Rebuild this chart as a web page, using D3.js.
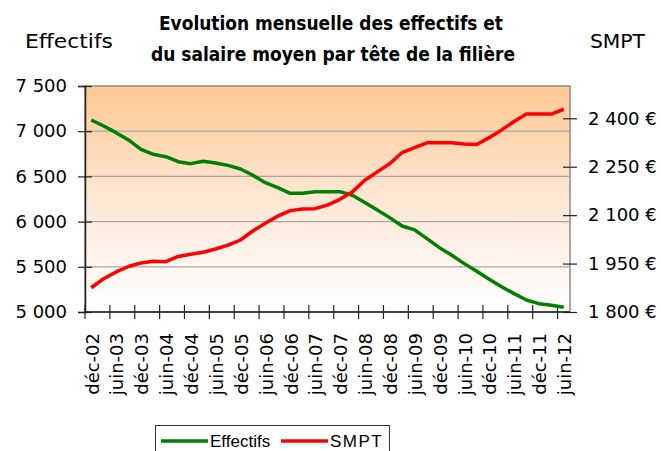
<!DOCTYPE html>
<html>
<head>
<meta charset="utf-8">
<script src="https://cdn.jsdelivr.net/npm/d3@7"></script>
<style>
  body { margin: 0; background: #fff; }
  svg { display: block; }
</style>
</head>
<body>
<svg id="chart"></svg>
<script>
// quarterly categories, déc-02 .. juin-12
const periods = [
  "déc-02", "mars-03", "juin-03", "sept-03", "déc-03", "mars-04", "juin-04", "sept-04",
  "déc-04", "mars-05", "juin-05", "sept-05", "déc-05", "mars-06", "juin-06", "sept-06",
  "déc-06", "mars-07", "juin-07", "sept-07", "déc-07", "mars-08", "juin-08", "sept-08",
  "déc-08", "mars-09", "juin-09", "sept-09", "déc-09", "mars-10", "juin-10", "sept-10",
  "déc-10", "mars-11", "juin-11", "sept-11", "déc-11", "mars-12", "juin-12"
];

// Effectifs (left axis)
const effectifs = [
  7124, 7058, 6984, 6903, 6800, 6744, 6718, 6663, 6641, 6667,
  6648, 6622, 6582, 6512, 6431, 6375, 6313, 6313, 6331, 6331,
  6331, 6291, 6210, 6128, 6044, 5951, 5908, 5811, 5712, 5627,
  5535, 5450, 5362, 5280, 5203, 5133, 5092, 5074, 5052
];

// SMPT, salaire moyen par tête en euros (right axis)
const smpt = [
  1875, 1903, 1924, 1941, 1952, 1957, 1956, 1972, 1979, 1985,
  1995, 2007, 2023, 2051, 2075, 2097, 2114, 2119, 2120, 2131,
  2149, 2172, 2208, 2234, 2259, 2294, 2309, 2324, 2324, 2324,
  2320, 2319, 2340, 2364, 2390, 2413, 2413, 2413, 2428
];

const leftTicks = [5000, 5500, 6000, 6500, 7000, 7500];
const rightTicks = [1800, 1950, 2100, 2250, 2400];
const titleLines = ["Evolution mensuelle des effectifs et", "du salaire moyen par tête de la filière"];

const width = 661, height = 451;
const plot = { left: 85, right: 570, top: 86, bottom: 312 };

const svg = d3.select("#chart").attr("width", width).attr("height", height);

svg.append("rect").attr("width", width).attr("height", height).attr("fill", "#fff");

const x = d3.scaleBand().domain(periods).range([plot.left, plot.right]);
const bw = x.bandwidth();
const yL = d3.scaleLinear().domain([5000, 7500]).range([plot.bottom, plot.top]);
const yR = d3.scaleLinear().domain([1800, 2500]).range([plot.bottom, plot.top]);

const fmt = v => d3.format(",")(v).replace(/,/g, " ");

// plot area gradient
const grad = svg.append("defs").append("linearGradient")
  .attr("id", "bg").attr("x1", 0).attr("y1", 0).attr("x2", 0).attr("y2", 1);
grad.append("stop").attr("offset", "0%").attr("stop-color", "#fdc993");
grad.append("stop").attr("offset", "55%").attr("stop-color", "#feeadb");
grad.append("stop").attr("offset", "100%").attr("stop-color", "#ffffff");

svg.append("rect")
  .attr("x", plot.left).attr("y", plot.top)
  .attr("width", plot.right - plot.left).attr("height", plot.bottom - plot.top)
  .attr("fill", "url(#bg)")
  .attr("stroke", "#8a8a8a").attr("stroke-width", 1.5);

// gridlines
svg.append("g").selectAll("line")
  .data(leftTicks.slice(1, -1))
  .join("line")
  .attr("x1", plot.left).attr("x2", plot.right)
  .attr("y1", d => yL(d)).attr("y2", d => yL(d))
  .attr("stroke", "#a6a6a6").attr("stroke-width", 1.2);

// left axis
const gL = svg.append("g").attr("transform", `translate(${plot.left},0)`)
  .call(d3.axisLeft(yL).tickValues(leftTicks).tickFormat(fmt).tickSize(7));
gL.select(".domain").attr("stroke", "#222").attr("stroke-width", 1.5);
gL.selectAll(".tick line").attr("x1", 7).attr("x2", -7).attr("stroke", "#222").attr("stroke-width", 1.2);
gL.selectAll(".tick text").attr("x", -18)
  .attr("font-family", "DejaVu Sans").attr("font-size", 18).attr("fill", "#000");

// right axis
const gR = svg.append("g").attr("transform", `translate(${plot.right},0)`)
  .call(d3.axisRight(yR).tickValues(rightTicks).tickFormat(d => fmt(d) + " €").tickSize(7));
gR.select(".domain").remove();
gR.selectAll(".tick line").attr("x1", -7).attr("x2", 7).attr("stroke", "#222").attr("stroke-width", 1.2);
gR.selectAll(".tick text").attr("x", 18)
  .attr("font-family", "DejaVu Sans").attr("font-size", 18).attr("fill", "#000");

// bottom axis (category axis, tick every 2 quarters)
const shown = periods.filter((d, i) => i % 2 === 0);
const gB = svg.append("g");
gB.append("line")
  .attr("x1", plot.left).attr("x2", plot.right)
  .attr("y1", plot.bottom).attr("y2", plot.bottom)
  .attr("stroke", "#222").attr("stroke-width", 1.5);
gB.selectAll("line.tk")
  .data(shown)
  .join("line").attr("class", "tk")
  .attr("x1", d => x(d)).attr("x2", d => x(d))
  .attr("y1", plot.bottom - 7).attr("y2", plot.bottom + 7)
  .attr("stroke", "#222").attr("stroke-width", 1.2);
gB.selectAll("text")
  .data(shown)
  .join("text")
  .attr("transform", d => `translate(${x(d) + bw / 2 + 1},${plot.bottom + 21}) rotate(-90)`)
  .attr("text-anchor", "end")
  .attr("dy", "0.35em")
  .attr("font-family", "DejaVu Sans").attr("font-size", 18).attr("fill", "#000")
  .text(d => d);

// series
const cx = (d, i) => x(periods[i]) + bw / 2;
svg.append("path")
  .datum(effectifs)
  .attr("fill", "none").attr("stroke", "#008000").attr("stroke-width", 3.5)
  .attr("stroke-linejoin", "round")
  .attr("d", d3.line().x(cx).y(d => yL(d)));
svg.append("path")
  .datum(smpt)
  .attr("fill", "none").attr("stroke", "#ff0000").attr("stroke-width", 3.5)
  .attr("stroke-linejoin", "round")
  .attr("d", d3.line().x(cx).y(d => yR(d)));

// titles
svg.selectAll("text.title")
  .data(titleLines)
  .join("text").attr("class", "title")
  .attr("x", (d, i) => i === 0 ? 331 : 333)
  .attr("y", (d, i) => i === 0 ? 29.5 : 61)
  .attr("text-anchor", "middle")
  .attr("font-family", "DejaVu Sans").attr("font-weight", "bold").attr("font-size", 19)
  .attr("textLength", (d, i) => i === 0 ? 344 : 364)
  .attr("lengthAdjust", "spacingAndGlyphs")
  .text(d => d);

svg.append("text")
  .attr("x", 25).attr("y", 48)
  .attr("font-family", "DejaVu Sans").attr("font-size", 19)
  .attr("textLength", 88).attr("lengthAdjust", "spacingAndGlyphs")
  .text("Effectifs");
svg.append("text")
  .attr("x", 590).attr("y", 48)
  .attr("font-family", "DejaVu Sans").attr("font-size", 19)
  .attr("textLength", 55).attr("lengthAdjust", "spacingAndGlyphs")
  .text("SMPT");

// legend
const legend = svg.append("g");
legend.append("rect")
  .attr("x", 155.5).attr("y", 425.5).attr("width", 234).attr("height", 40)
  .attr("fill", "#fff").attr("stroke", "#333").attr("stroke-width", 1);
const items = [
  { name: "Effectifs", color: "#008000", x0: 161, x1: 208, tx: 210 },
  { name: "SMPT", color: "#ff0000", x0: 281, x1: 328, tx: 330 }
];
items.forEach(it => {
  legend.append("line")
    .attr("x1", it.x0).attr("x2", it.x1).attr("y1", 441).attr("y2", 441)
    .attr("stroke", it.color).attr("stroke-width", 3.5);
  legend.append("text")
    .attr("x", it.tx).attr("y", 447)
    .attr("font-family", "Liberation Sans").attr("font-size", 17)
    .attr("letter-spacing", it.name === "SMPT" ? 1.5 : 0)
    .text(it.name);
});
</script>
</body>
</html>
